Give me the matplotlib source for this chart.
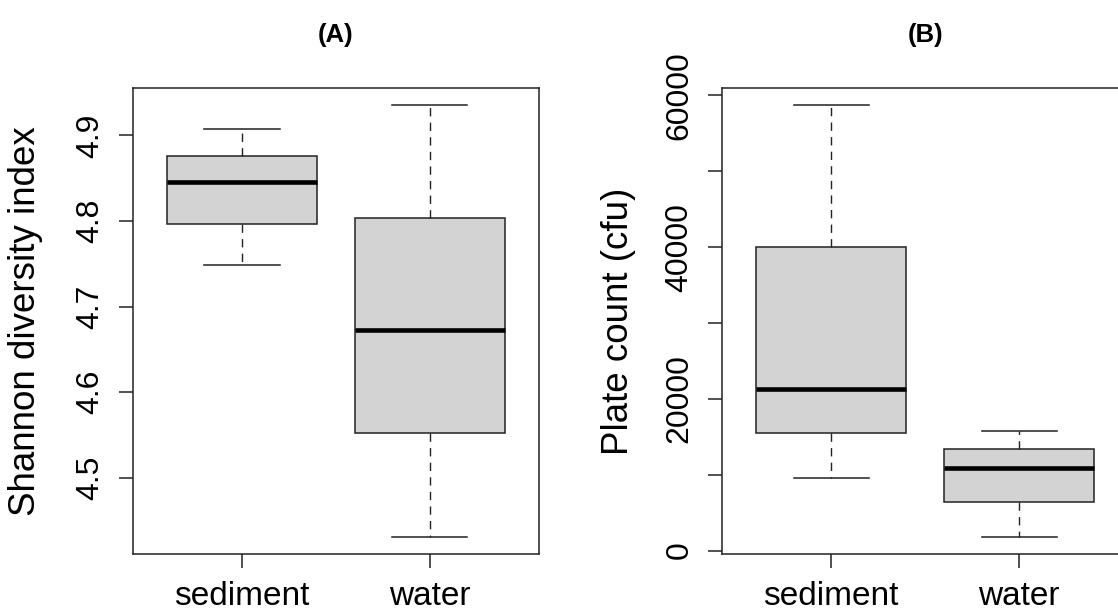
"""Boxplots of Shannon diversity (A) and plate count (B) for sediment vs water."""
import matplotlib
matplotlib.use('Agg')
import matplotlib.pyplot as plt

plt.rcParams['font.family'] = ['Liberation Sans', 'DejaVu Sans']

groups = ["sediment", "water"]

# Panel A: Shannon diversity index (whisker low, Q1, median, Q3, whisker high)
shannon_low = [4.749, 4.431]
shannon_q1 = [4.797, 4.552]
shannon_med = [4.846, 4.673]
shannon_q3 = [4.876, 4.803]
shannon_high = [4.907, 4.935]

# Panel B: plate count (cfu)
plate_low = [9600, 1800]
plate_q1 = [15500, 6400]
plate_med = [21300, 10900]
plate_q3 = [40000, 13350]
plate_high = [58700, 15750]

shannon_ticks = [4.5, 4.6, 4.7, 4.8, 4.9]
plate_ticks = [0, 10000, 20000, 30000, 40000, 50000, 60000]
plate_ticklabels = ["0", "", "20000", "", "40000", "", "60000"]


def make_stats(low, q1, med, q3, high):
    return [dict(whislo=a, q1=b, med=c, q3=d, whishi=e, label=g)
            for a, b, c, d, e, g in zip(low, q1, med, q3, high, groups)]


def draw_box(ax, stats):
    ax.bxp(stats, positions=[1, 2], widths=0.8, capwidths=0.4, showfliers=False,
           patch_artist=True,
           boxprops=dict(facecolor='#d3d3d3', edgecolor='#222222', linewidth=1.1),
           whiskerprops=dict(color='#222222', linewidth=1.0, linestyle=(0, (6, 4.5))),
           capprops=dict(color='#222222', linewidth=1.1),
           medianprops=dict(color='black', linewidth=3.3, solid_capstyle='butt'))
    ax.set_xlim(0.42, 2.58)
    ax.set_xticks([1, 2])
    ax.set_xticklabels(groups, fontsize=24)
    for s in ax.spines.values():
        s.set_linewidth(1.1)
        s.set_color('#222222')
    ax.tick_params(axis='both', length=10, width=1.1, color='#222222')
    ax.tick_params(axis='x', pad=9)
    ax.tick_params(axis='y', pad=10)
    for lab in ax.get_yticklabels():
        lab.set_rotation(90)
        lab.set_va('center')
        lab.set_fontsize(23)


fig = plt.figure(figsize=(11.18, 6.13), dpi=100)
ax1 = fig.add_axes([0.119, 0.096, 0.363, 0.760])
ax2 = fig.add_axes([0.646, 0.096, 0.363, 0.760])

# --- (A) Shannon diversity ---
ax1.set_yticks(shannon_ticks)
ax1.set_yticklabels([f"{t:.1f}" for t in shannon_ticks])
draw_box(ax1, make_stats(shannon_low, shannon_q1, shannon_med, shannon_q3, shannon_high))
ax1.set_ylim(4.411, 4.955)
ax1.set_ylabel("Shannon diversity index", fontsize=26.5)
ax1.yaxis.set_label_coords(-0.222, 0.5)
ax1.set_title("(A)", fontsize=18.5, fontweight='bold', pad=33)

# --- (B) Plate count ---
ax2.set_yticks(plate_ticks)
ax2.set_yticklabels(plate_ticklabels)
draw_box(ax2, make_stats(plate_low, plate_q1, plate_med, plate_q3, plate_high))
ax2.set_ylim(-465, 60930)
ax2.set_ylabel("Plate count (cfu)", fontsize=26.5)
ax2.yaxis.set_label_coords(-0.212, 0.5)
ax2.set_title("(B)", fontsize=18.5, fontweight='bold', pad=33)

plt.savefig("out.png", dpi=100)
plt.close()
